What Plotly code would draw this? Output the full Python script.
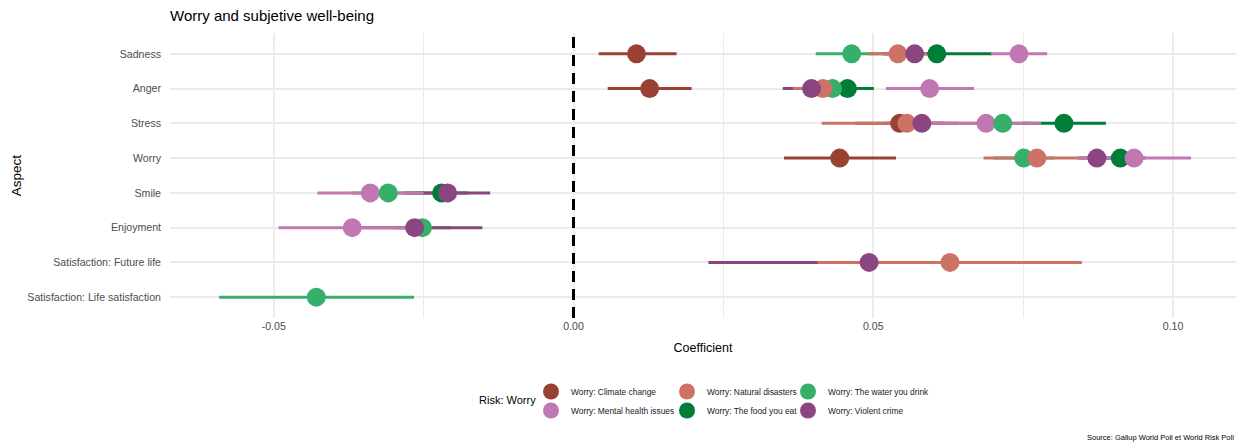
import plotly.graph_objects as go

# Aspects of subjective well-being, top to bottom
aspects = [
    "Sadness", "Anger", "Stress", "Worry", "Smile", "Enjoyment",
    "Satisfaction: Future life", "Satisfaction: Life satisfaction",
]

# Regression coefficients and 95% interval bounds per risk (None = not estimated)
climate_coef = [0.0105, 0.0127, 0.0544, 0.0444, None, None, None, None]
climate_lo = [0.0042, 0.0057, 0.0470, 0.0351, None, None, None, None]
climate_hi = [0.0172, 0.0197, 0.0618, 0.0538, None, None, None, None]

mental_coef = [0.0743, 0.0594, 0.0688, 0.0935, -0.0339, -0.0369, None, None]
mental_lo = [0.0696, 0.0521, 0.0596, 0.0840, -0.0427, -0.0492, None, None]
mental_hi = [0.0790, 0.0668, 0.0780, 0.1030, -0.0250, -0.0245, None, None]

natural_coef = [0.0541, 0.0416, 0.0556, 0.0773, None, None, 0.0628, None]
natural_lo = [0.0492, 0.0366, 0.0414, 0.0684, None, None, 0.0407, None]
natural_hi = [0.0590, 0.0466, 0.0698, 0.0862, None, None, 0.0848, None]

food_coef = [0.0606, 0.0457, 0.0818, 0.0912, -0.0220, None, None, None]
food_lo = [0.0514, 0.0413, 0.0748, 0.0870, -0.0265, None, None, None]
food_hi = [0.0698, 0.0501, 0.0888, 0.0954, -0.0175, None, None, None]

water_coef = [0.0464, 0.0432, 0.0716, 0.0751, -0.0309, -0.0252, None, -0.0429]
water_lo = [0.0404, 0.0392, 0.0670, 0.0700, -0.0370, -0.0300, None, -0.0591]
water_hi = [0.0524, 0.0472, 0.0762, 0.0802, -0.0250, -0.0204, None, -0.0266]

violent_coef = [0.0569, 0.0397, 0.0581, 0.0873, -0.0210, -0.0265, 0.0493, None]
violent_lo = [0.0520, 0.0349, 0.0520, 0.0843, -0.0281, -0.0379, 0.0225, None]
violent_hi = [0.0615, 0.0445, 0.0642, 0.0903, -0.0139, -0.0152, 0.0760, None]

x_tickvals = [-0.05, 0.0, 0.05, 0.10]
x_ticktext = ["-0.05", "0.00", "0.05", "0.10"]

# Legend columns: the right-most column is laid out first so that
# columns further left are drawn on top of it.
series = {
    "climate": dict(name="Worry: Climate change", color="#994234",
                    coef=climate_coef, lo=climate_lo, hi=climate_hi, legend="legend3", rank=1),
    "mental": dict(name="Worry: Mental health issues", color="#C177B2",
                   coef=mental_coef, lo=mental_lo, hi=mental_hi, legend="legend3", rank=2),
    "natural": dict(name="Worry: Natural disasters", color="#CC7366",
                    coef=natural_coef, lo=natural_lo, hi=natural_hi, legend="legend2", rank=1),
    "food": dict(name="Worry: The food you eat", color="#007D37",
                 coef=food_coef, lo=food_lo, hi=food_hi, legend="legend2", rank=2),
    "water": dict(name="Worry: The water you drink", color="#35AF6A",
                  coef=water_coef, lo=water_lo, hi=water_hi, legend="legend", rank=1),
    "violent": dict(name="Worry: Violent crime", color="#8B4581",
                    coef=violent_coef, lo=violent_lo, hi=violent_hi, legend="legend", rank=2),
}

line_order = ["climate", "water", "food", "violent", "natural", "mental"]
point_order = ["climate", "food", "mental", "water", "natural", "violent"]

fig = go.Figure()

# Interval segments first so every point sits above every line
for key in line_order:
    s = series[key]
    xs, ys = [], []
    for a, lo, hi in zip(aspects, s["lo"], s["hi"]):
        if lo is None:
            continue
        xs += [lo, hi, None]
        ys += [a, a, None]
    fig.add_trace(go.Scatter(
        x=xs, y=ys, mode="lines",
        line=dict(color=s["color"], width=3),
        showlegend=False, hoverinfo="skip",
    ))

for key in point_order:
    s = series[key]
    xs = [c for c in s["coef"] if c is not None]
    ys = [a for a, c in zip(aspects, s["coef"]) if c is not None]
    fig.add_trace(go.Scatter(
        x=xs, y=ys, mode="markers", name=s["name"],
        marker=dict(color=s["color"], size=19, line=dict(width=0)),
        legend=s["legend"], legendrank=s["rank"],
    ))

# Dashed reference line at zero
fig.add_shape(type="line", x0=0, x1=0, xref="x", y0=0, y1=1, yref="paper",
              line=dict(color="black", width=3, dash="11px,7px"), layer="above")

font_family = "Liberation Sans, Arial, sans-serif"
grid_col = "#EBEBEB"

legend_common = dict(
    orientation="v", yanchor="top", y=-0.207, xanchor="left",
    font=dict(family=font_family, size=8.4, color="#1A1A1A"),
    bgcolor="rgba(255,255,255,0)", borderwidth=0, itemwidth=30,
    traceorder="normal",
)

fig.update_layout(
    width=1242, height=448,
    margin=dict(l=170, r=6, t=33, b=130),
    paper_bgcolor="white", plot_bgcolor="white",
    font=dict(family=font_family, color="#1A1A1A"),
    title=dict(text="Worry and subjetive well-being", x=170 / 1242, xanchor="left",
               xref="container", y=1 - 16 / 448, yanchor="middle",
               font=dict(size=15, color="black")),
    xaxis=dict(
        range=[-0.0673, 0.1105], zeroline=False,
        tickvals=x_tickvals, ticktext=x_ticktext,
        tickfont=dict(size=10.6, color="#4D4D4D"),
        showgrid=True, gridcolor=grid_col, gridwidth=1.6,
        minor=dict(tickvals=[-0.025, 0.025, 0.075], showgrid=True,
                   gridcolor=grid_col, gridwidth=1.1),
        title=dict(text="Coefficient", font=dict(size=12.5, color="black"), standoff=12),
        ticks="", showline=False,
    ),
    yaxis=dict(
        type="category", categoryorder="array", categoryarray=aspects[::-1],
        range=[-0.6, 7.6], zeroline=False,
        tickfont=dict(size=10.6, color="#4D4D4D"),
        showgrid=True, gridcolor=grid_col, gridwidth=1.6,
        title=dict(text="Aspect", font=dict(size=13.5, color="black"), standoff=2),
        ticks="", showline=False, ticklabelstandoff=8,
    ),
    legend3=dict(x=(531 - 170) / 1066, **legend_common),
    legend2=dict(x=(667 - 170) / 1066, **legend_common),
    legend=dict(x=(788 - 170) / 1066, **legend_common),
    annotations=[
        dict(text="Risk: Worry", xref="paper", yref="paper",
             x=(538 - 170) / 1066, y=(318 - 400) / 285, xanchor="right", yanchor="middle",
             showarrow=False, font=dict(size=11, color="black")),
        dict(text="Source: Gallup World Poll et World Risk Poll", xref="paper", yref="paper",
             x=1, y=(318 - 437) / 285, xanchor="right", yanchor="middle",
             showarrow=False, font=dict(size=7.5, color="black")),
    ],
)

fig.write_html("out.html")
